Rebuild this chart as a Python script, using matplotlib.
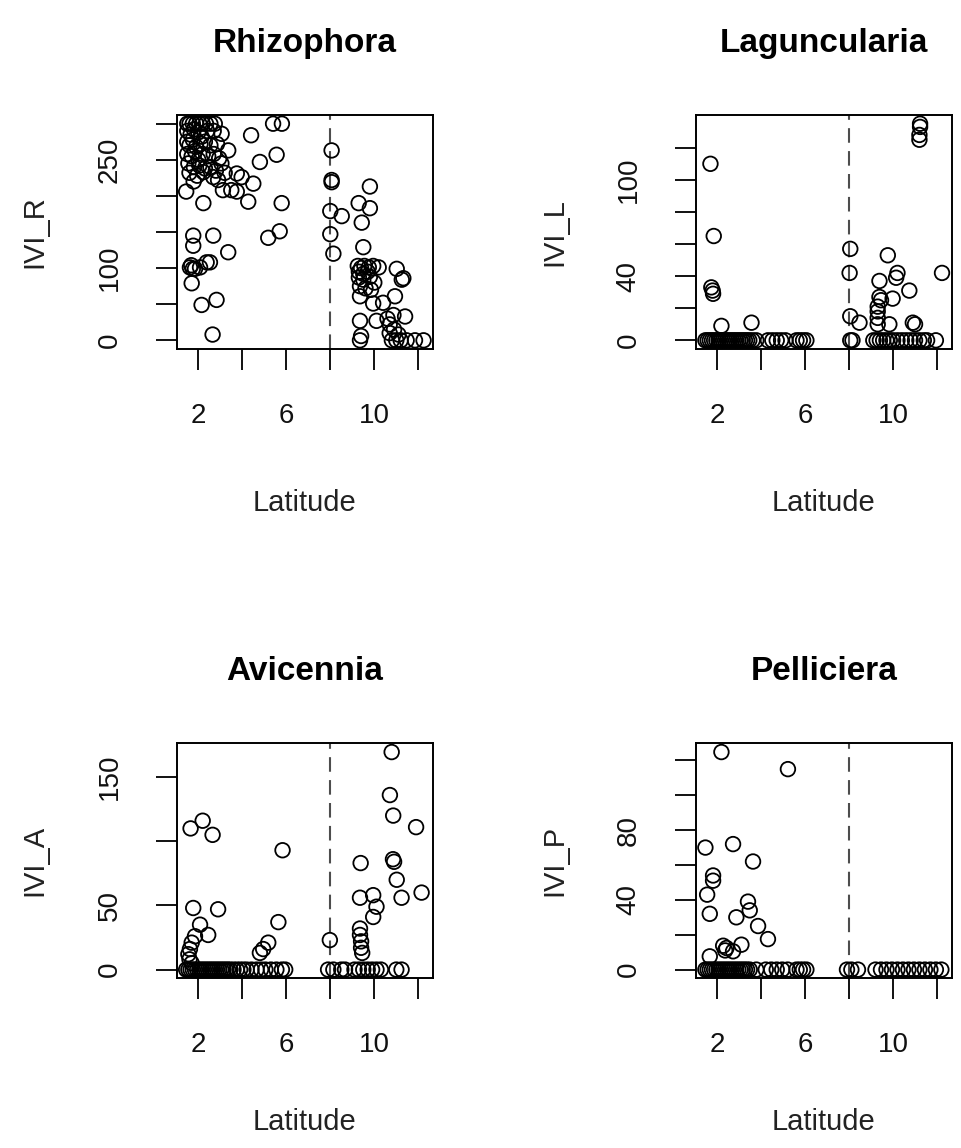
import matplotlib.pyplot as plt

plt.rcParams['font.family'] = ['Liberation Sans', 'DejaVu Sans']

# (latitude, IVI) pairs, IVI > 0
rhizophora = [
    (1.5, 300), (1.6, 300), (1.75, 300), (1.9, 300), (2.05, 300), (2.2, 300), (2.35, 300), (2.55, 300), (2.75, 300),
    (1.5, 290), (1.65, 285), (1.8, 292), (2.0, 288), (2.15, 282), (2.4, 290), (2.7, 290), (3.06, 286),
    (1.5, 275), (1.6, 270), (1.75, 278), (1.9, 268), (2.1, 272), (2.3, 275), (2.55, 270), (2.85, 272),
    (1.5, 258), (1.7, 255), (1.85, 262), (2.0, 250), (2.2, 258), (2.45, 255), (2.7, 258), (2.95, 252), (3.36, 263),
    (1.55, 245), (1.8, 240), (2.05, 242), (2.3, 238), (2.55, 240), (2.8, 235), (3.05, 245),
    (1.6, 232), (1.79, 220), (1.95, 228), (2.23, 233), (2.68, 226), (2.9, 222), (3.2, 232),
    (1.45, 206), (2.23, 190), (3.12, 208), (3.5, 208), (3.75, 206), (3.75, 231), (3.97, 226), (4.5, 217),
    (4.27, 192), (4.4, 284), (4.8, 247), (5.56, 257), (5.4, 300), (5.8, 300), (5.79, 190), (5.7, 151), (5.18, 142),
    (1.77, 145), (1.77, 131), (2.68, 145), (3.36, 122), (1.62, 101), (1.68, 104), (1.75, 99), (1.85, 99),
    (2.08, 101), (2.38, 108), (2.53, 108), (1.7, 79), (2.15, 49), (2.83, 56), (2.65, 8),
    (8.06, 263), (8.06, 222), (8.06, 219), (8.0, 179), (8.52, 172), (8.0, 147), (8.14, 120),
    (9.8, 213), (9.29, 190), (9.8, 183), (9.43, 163), (9.5, 129),
    (9.25, 103), (9.4, 100), (9.55, 103), (9.75, 101), (9.95, 103), (10.2, 101), (9.3, 95), (9.5, 92), (9.7, 95),
    (9.3, 87), (9.5, 84), (9.8, 88), (10.0, 80), (9.35, 75), (9.6, 72), (9.85, 70),
    (11.02, 99), (11.32, 86), (11.25, 84), (9.35, 61), (9.95, 51), (10.94, 61), (10.4, 52), (10.87, 35),
    (11.4, 33), (10.6, 30), (9.35, 27), (10.1, 27), (10.7, 22), (10.9, 15), (11.1, 8), (9.4, 6), (10.7, 10),
]
rhizophora_zero = [9.35, 10.8, 11.0, 11.2, 11.47, 11.85, 12.24]

laguncularia = [
    (1.68, 110), (1.83, 65), (1.72, 33), (1.78, 31), (1.8, 29), (2.18, 9), (3.55, 11),
    (8.05, 57), (8.02, 42), (8.05, 15), (8.47, 11),
    (9.76, 53), (10.2, 42), (10.14, 39), (9.38, 37), (10.74, 31), (9.38, 27), (9.45, 25), (9.98, 26),
    (9.3, 21), (9.3, 18), (9.3, 14), (9.3, 10), (9.83, 10), (10.9, 11), (11.0, 10), (12.23, 42),
    (11.23, 135), (11.23, 133), (11.2, 128), (11.2, 125),
]
laguncularia_zero = [1.45, 1.55, 1.65, 1.75, 1.85, 1.95, 2.05, 2.15, 2.25, 2.35, 2.45, 2.55, 2.65, 2.75,
                     2.85, 2.95, 3.05, 3.15, 3.25, 3.35, 3.45, 3.6, 3.77, 4.3, 4.5, 4.7, 4.9, 5.1,
                     5.6, 5.75, 5.9, 6.05, 8.05, 8.15,
                     9.1, 9.25, 9.4, 9.55, 9.7, 9.85, 10.0, 10.2, 10.4, 10.6, 10.8, 11.0, 11.2, 11.4,
                     11.55, 11.95]

avicennia = [
    (1.65, 110), (2.2, 116), (2.65, 105), (5.83, 93), (1.77, 48), (2.9, 47), (2.08, 35), (2.45, 27),
    (1.85, 26), (1.7, 21), (1.62, 16), (1.55, 12), (1.6, 8), (1.7, 5), (5.64, 37), (5.18, 21), (4.8, 13),
    (4.95, 16), (7.98, 23),
    (10.79, 169.5), (10.71, 136), (10.86, 120), (11.9, 111), (9.38, 83), (10.85, 86), (10.9, 84),
    (11.02, 70), (12.15, 60), (11.24, 56), (9.35, 56), (9.95, 58), (10.1, 49), (9.95, 41),
    (9.35, 32), (9.35, 27), (9.4, 22), (9.4, 17), (9.45, 13),
]
avicennia_zero = [1.45, 1.55, 1.65, 1.75, 1.85, 1.95, 2.05, 2.15, 2.25, 2.35, 2.45, 2.55, 2.65, 2.75,
                  2.85, 2.95, 3.05, 3.15, 3.25, 3.35, 3.45, 3.6, 3.75, 3.9, 4.05, 4.2, 4.42, 4.65,
                  4.85, 5.05, 5.3, 5.55, 5.8, 5.95, 7.9, 8.14, 8.5, 8.67,
                  9.1, 9.3, 9.5, 9.7, 9.9, 10.1, 10.3, 11.0, 11.24]

pelliciera = [
    (2.18, 124.8), (5.21, 115), (1.45, 70), (2.71, 72), (3.62, 62), (1.8, 54), (1.8, 51), (1.53, 43),
    (1.65, 32), (3.39, 39), (3.47, 34), (2.86, 30), (3.85, 25), (4.3, 17.5), (2.26, 13.7), (2.41, 12.4),
    (2.71, 10.5), (3.09, 14.3), (2.35, 11), (1.65, 7.6),
]
pelliciera_zero = [1.45, 1.55, 1.65, 1.75, 1.85, 1.95, 2.05, 2.15, 2.25, 2.35, 2.45, 2.55, 2.65, 2.75,
                   2.85, 2.95, 3.05, 3.15, 3.25, 3.35, 3.47, 3.77, 4.2, 4.45, 4.7, 4.95, 5.2,
                   5.6, 5.75, 5.9, 6.05, 7.9, 8.1, 8.4,
                   9.2, 9.45, 9.7, 9.95, 10.2, 10.45, 10.7, 10.95, 11.2, 11.45, 11.7, 11.95, 12.2]

x_ticks = [2, 4, 6, 8, 10, 12]
x_labels = ['2', '', '6', '', '10', '']
split_lat = 8

fig = plt.figure(figsize=(9.61, 11.48), dpi=100)


def panel(rect, pts, zeros, title, ylab, ylim, yticks, ylabels, xlab_y):
    ax = fig.add_axes(rect)
    lat = [p[0] for p in pts] + zeros
    ivi = [p[1] for p in pts] + [0] * len(zeros)
    ax.scatter(lat, ivi, s=110, facecolors='none', edgecolors='black', linewidths=1.3, zorder=3)
    ax.axvline(split_lat, color='0.3', lw=1.5, dashes=(7, 4), zorder=2)
    ax.set_xlim(1.02, 12.67)
    ax.set_ylim(ylim)
    ax.set_xticks(x_ticks)
    ax.set_xticklabels(x_labels)
    ax.set_yticks(yticks)
    ax.set_yticklabels(ylabels, rotation=90, va='center')
    ax.tick_params(length=15, width=1.4, pad=24, labelsize=20, colors='#111111')
    for sp in ax.spines.values():
        sp.set_linewidth(1.4)
    ax.set_title(title, fontsize=24, fontweight='bold', y=1.27, pad=0)
    ax.set_xlabel('Latitude', fontsize=21, color='#222222')
    ax.xaxis.set_label_coords(0.5, xlab_y)
    ax.set_ylabel(ylab, fontsize=21, color='#222222')
    ax.yaxis.set_label_coords(-0.5, 0.5)
    return ax


panel([0.1839, 0.696, 0.2667, 0.2038], rhizophora, rhizophora_zero, 'Rhizophora', 'IVI_R',
      (-12, 312), [0, 50, 100, 150, 200, 250, 300], ['0', '', '100', '', '', '250', ''], -0.6)
panel([0.7242, 0.696, 0.2661, 0.2038], laguncularia, laguncularia_zero, 'Laguncularia', 'IVI_L',
      (-5.4, 140.4), [0, 20, 40, 60, 80, 100, 120], ['0', '', '40', '', '', '100', ''], -0.6)
panel([0.1839, 0.1478, 0.2667, 0.2047], avicennia, avicennia_zero, 'Avicennia', 'IVI_A',
      (-6.8, 176.3), [0, 50, 100, 150], ['0', '50', '', '150'], -0.55)
panel([0.7242, 0.1478, 0.2661, 0.2047], pelliciera, pelliciera_zero, 'Pelliciera', 'IVI_P',
      (-5, 129.8), [0, 20, 40, 60, 80, 100, 120], ['0', '', '40', '', '80', '', ''], -0.55)

fig.savefig('out.png', dpi=100)
